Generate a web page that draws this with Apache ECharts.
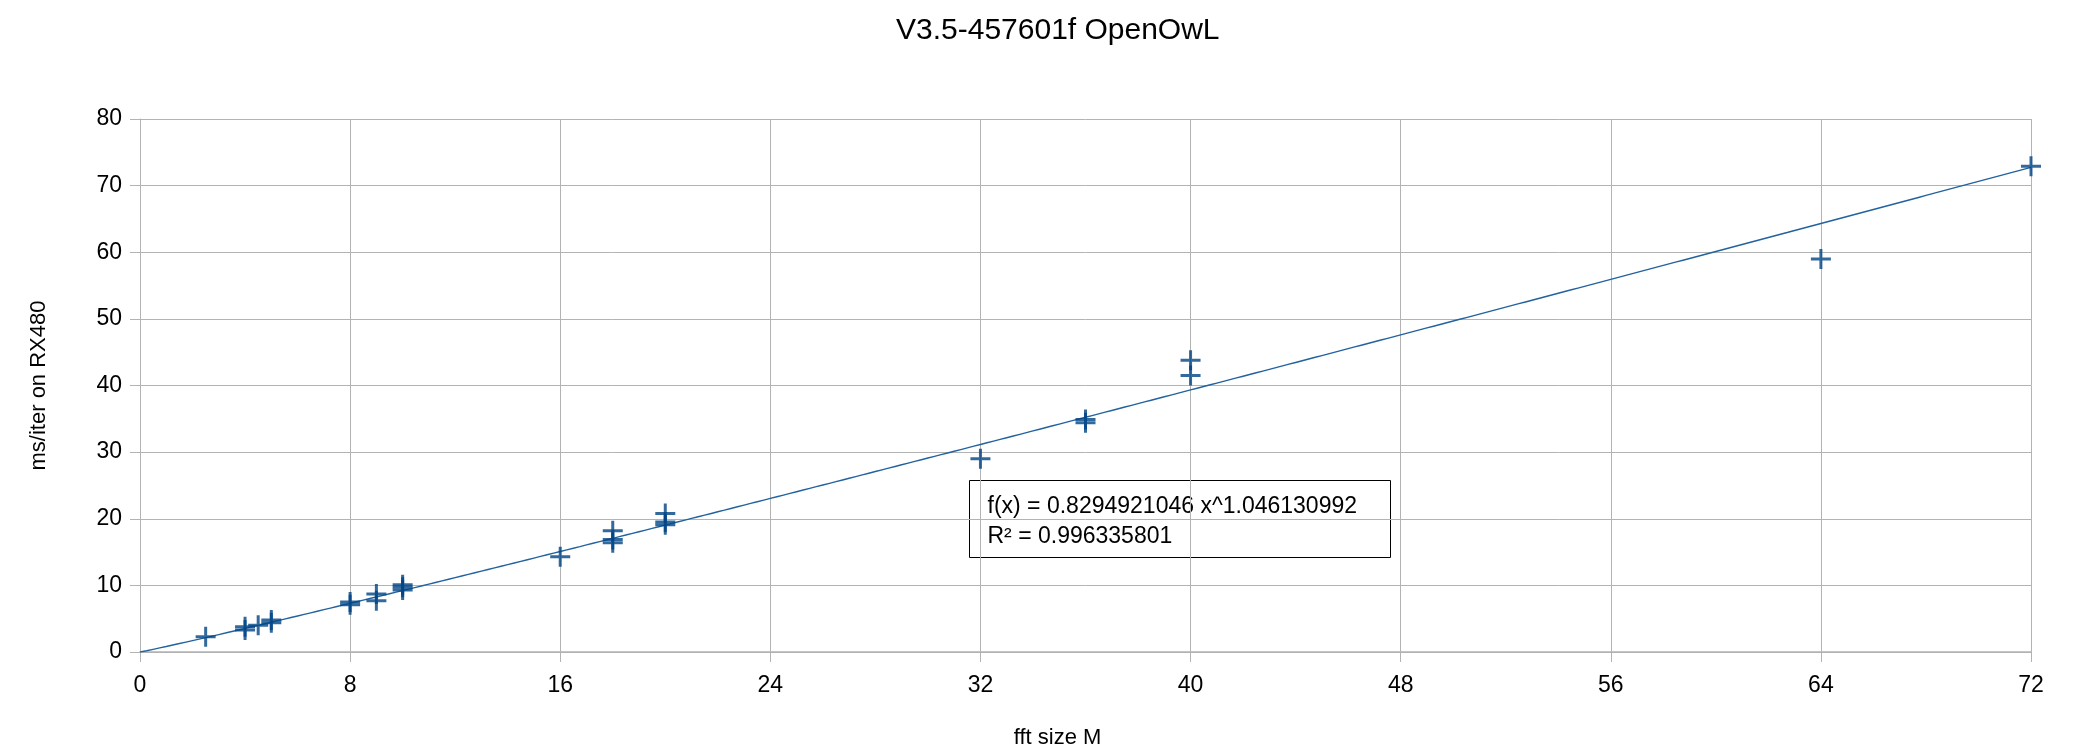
<!DOCTYPE html>
<html>
<head>
<meta charset="utf-8">
<script src="https://cdn.jsdelivr.net/npm/echarts@6/dist/echarts.min.js"></script>
<style>
html,body{margin:0;padding:0;background:#fff;}
#chart{width:2080px;height:755px;}
</style>
</head>
<body>
<div id="chart"></div>
<script>
// ---- data ----
const titleText = 'V3.5-457601f OpenOwL';
const xAxisName = 'fft size M';
const yAxisName = 'ms/iter on RX480';
const fftSizeM = [2.5, 4, 4, 4.5, 5, 5, 8, 8, 9, 9, 10, 10, 10, 16, 18, 18, 18, 20, 20, 20, 32, 36, 36, 40, 40, 64, 72];
const msPerIter = [2.3, 3.8, 3.3, 4.0, 4.8, 4.4, 7.5, 7.1, 8.7, 7.7, 10.1, 9.7, 9.3, 14.3, 18.2, 16.9, 16.4, 20.8, 19.5, 19.1, 29.0, 34.9, 34.4, 43.8, 41.5, 59.0, 72.9];
const xTicks = [0, 8, 16, 24, 32, 40, 48, 56, 64, 72];
const yTicks = [0, 10, 20, 30, 40, 50, 60, 70, 80];
// power trendline reported on the chart
const trendCoef = 0.8294921046;
const trendExp = 1.046130992;
const trendR2 = '0.996335801';

const points = fftSizeM.map((x, i) => [x, msPerIter[i]]);
const trend = [];
for (let x = 0; x <= 72.0001; x += 0.25) trend.push([x, trendCoef * Math.pow(x, trendExp)]);

const FONT = '"Liberation Sans", Arial, sans-serif';
const GRID = '#b3b3b3';
const plus = 'path://M-1.5,-10 h3 v8.5 h8.5 v3 h-8.5 v8.5 h-3 v-8.5 h-8.5 v-3 h8.5 z';

const chart = echarts.init(document.getElementById('chart'), null, {renderer: 'canvas'});
chart.setOption({
  animation: false,
  backgroundColor: '#ffffff',
  title: {
    text: titleText,
    left: 891,
    top: 11,
    textStyle: {fontFamily: FONT, fontSize: 30, fontWeight: 'normal', color: '#000'}
  },
  grid: {left: 140, right: 49, top: 119, bottom: 103, containLabel: false, outerBoundsMode: 'none'},
  xAxis: {
    type: 'value',
    min: xTicks[0], max: xTicks[xTicks.length - 1], interval: xTicks[1] - xTicks[0],
    name: xAxisName,
    nameLocation: 'middle',
    nameGap: 75,
    nameTextStyle: {fontFamily: FONT, fontSize: 22, color: '#000', padding: [0, 56, 0, 0]},
    axisLine: {show: true, lineStyle: {color: GRID, width: 1.5}},
    axisTick: {show: true, length: 10, inside: false, lineStyle: {color: GRID}},
    axisLabel: {fontFamily: FONT, fontSize: 23, color: '#000', margin: 22},
    splitLine: {show: true, lineStyle: {color: GRID, width: 1}}
  },
  yAxis: {
    type: 'value',
    min: yTicks[0], max: yTicks[yTicks.length - 1], interval: yTicks[1] - yTicks[0],
    name: yAxisName,
    nameLocation: 'middle',
    nameGap: 90,
    nameRotate: 90,
    nameTextStyle: {fontFamily: FONT, fontSize: 22, color: '#000'},
    axisLine: {show: true, lineStyle: {color: GRID, width: 1}},
    axisTick: {show: true, length: 10, inside: false, lineStyle: {color: GRID}},
    axisLabel: {fontFamily: FONT, fontSize: 23, color: '#000', margin: 18},
    splitLine: {show: true, lineStyle: {color: GRID, width: 1}}
  },
  series: [
    {
      type: 'line',
      data: trend,
      showSymbol: false,
      symbol: 'none',
      lineStyle: {color: '#22629f', width: 1.4},
      z: 2,
      silent: true
    },
    {
      type: 'scatter',
      data: points,
      symbol: plus,
      symbolSize: 20,
      itemStyle: {color: '#004586'},
      z: 3
    }
  ],
  graphic: [
    {
      type: 'group',
      left: 969,
      top: 480,
      children: [
        {
          type: 'rect',
          shape: {x: 0, y: 0, width: 421, height: 77},
          style: {fill: '#fff', stroke: '#000', lineWidth: 1}
        },
        {
          type: 'text',
          left: 18,
          top: 11,
          style: {
            text: 'f(x) = ' + trendCoef + ' x^' + trendExp + '\nR² = ' + trendR2,
            font: '23px ' + FONT,
            fill: '#000',
            lineHeight: 30
          }
        }
      ]
    }
  ]
});
</script>
</body>
</html>
